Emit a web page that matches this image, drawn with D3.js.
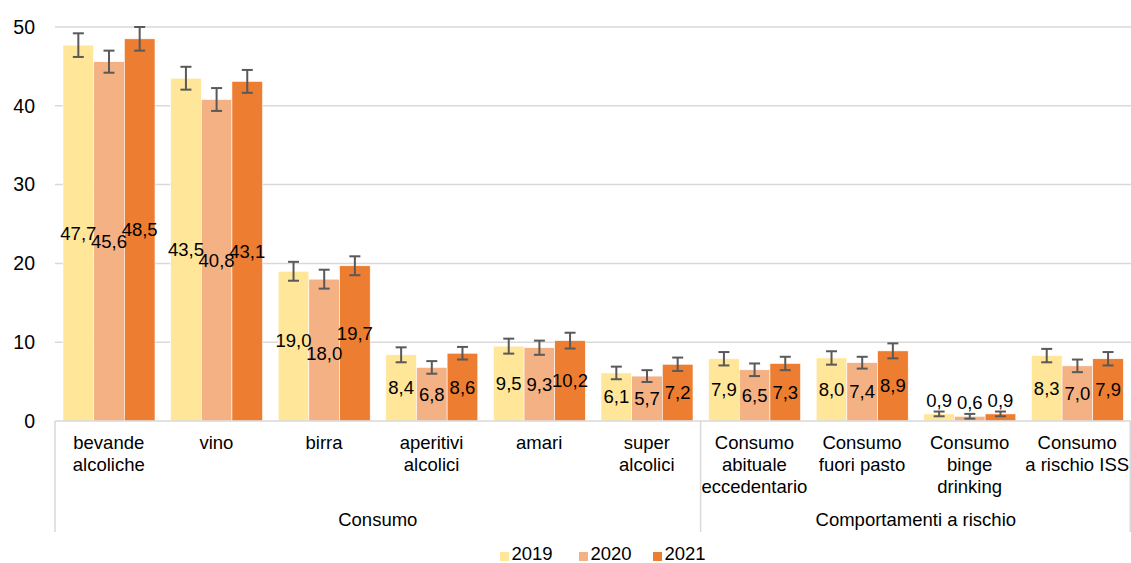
<!DOCTYPE html>
<html><head><meta charset="utf-8">
<script src="https://cdn.jsdelivr.net/npm/d3@7"></script>
<style>body{margin:0;background:#fff}svg{display:block;font-family:"Liberation Sans",Arial,sans-serif}</style>
</head><body><svg id="c" width="1131" height="563"></svg>
<script>
const categories = [
  ["bevande","alcoliche"],["vino"],["birra"],["aperitivi","alcolici"],["amari"],["super","alcolici"],
  ["Consumo","abituale","eccedentario"],["Consumo","fuori pasto"],["Consumo","binge","drinking"],["Consumo","a rischio ISS"]
];
const groups = [{name:"Consumo", from:0, to:5},{name:"Comportamenti a rischio", from:6, to:9}];
const years = ["2019","2020","2021"];
const colors = ["#FFE699","#F4B183","#ED7D31"];
const v2019 = [47.7, 43.5, 19.0, 8.4, 9.5, 6.1, 7.9, 8.0, 0.9, 8.3];
const v2020 = [45.6, 40.8, 18.0, 6.8, 9.3, 5.7, 6.5, 7.4, 0.6, 7.0];
const v2021 = [48.5, 43.1, 19.7, 8.6, 10.2, 7.2, 7.3, 8.9, 0.9, 7.9];
const e2019 = [1.5, 1.45, 1.2, 0.95, 0.95, 0.8, 0.85, 0.85, 0.3, 0.85];
const e2020 = [1.4, 1.45, 1.2, 0.8, 0.9, 0.75, 0.8, 0.75, 0.3, 0.8];
const e2021 = [1.5, 1.45, 1.2, 0.8, 1.0, 0.85, 0.85, 0.95, 0.3, 0.85];
const yTicks = [0,10,20,30,40,50];

const values = [v2019, v2020, v2021];
const errs = [e2019, e2020, e2021];
const svg = d3.select("#c");
const left = 55, right = 1131, y0 = 421, yTop = 27;
const idx = categories.map((d,i)=>i);
const x0 = d3.scaleBand().domain(idx).range([left,right]).padding(0);
const bw = x0.bandwidth();
const x1 = d3.scaleBand().domain(years).range([8, bw-7.6]).padding(0);
const y = d3.scaleLinear().domain([0,50]).range([y0,yTop]);
const fmt = v => d3.format(".1f")(v).replace(".", ",");

// gridlines
svg.append("g").selectAll("line").data(yTicks.filter(t=>t>0)).join("line")
  .attr("x1",left).attr("x2",right).attr("y1",d=>y(d)).attr("y2",d=>y(d))
  .attr("stroke","#d9d9d9").attr("stroke-width",1.5);

// y tick labels
svg.append("g").selectAll("text").data(yTicks).join("text")
  .attr("x",35).attr("y",d=>y(d)).attr("dy","0.35em").attr("text-anchor","end")
  .attr("font-size","19.5px").attr("fill","#000").text(d=>d);

// bars
const rows = [];
idx.forEach(i=>years.forEach((yr,j)=>rows.push({i,yr,j,v:values[j][i],e:errs[j][i]})));
svg.append("g").selectAll("rect").data(rows).join("rect")
  .attr("x",d=>x0(d.i)+x1(d.yr)).attr("width",x1.bandwidth())
  .attr("y",d=>y(d.v)).attr("height",d=>y0-y(d.v))
  .attr("fill",d=>colors[d.j]).attr("stroke","#fff").attr("stroke-width",0.6);

// error bars
const eg = svg.append("g").attr("stroke","#595959").attr("stroke-width",2);
rows.forEach(d=>{
  const cx = x0(d.i)+x1(d.yr)+x1.bandwidth()/2;
  const t = y(d.v+d.e), b = y(d.v-d.e);
  eg.append("line").attr("x1",cx).attr("x2",cx).attr("y1",t).attr("y2",b);
  eg.append("line").attr("x1",cx-5.5).attr("x2",cx+5.5).attr("y1",t).attr("y2",t);
  eg.append("line").attr("x1",cx-5.5).attr("x2",cx+5.5).attr("y1",b).attr("y2",b);
});

// data labels (birra labels nudged vertically as in the reference)
const nudge = (d) => d.i===2 ? [-6, 3, -10][d.j] : 0;
svg.append("g").selectAll("text").data(rows).join("text")
  .attr("x",d=>x0(d.i)+x1(d.yr)+x1.bandwidth()/2)
  .attr("y",d=> d.v<3 ? y(d.v+d.e)-11 : (y(d.v)+y0)/2 + nudge(d))
  .attr("dy","0.35em").attr("text-anchor","middle")
  .attr("font-size","18.5px").attr("fill","#000").text(d=>fmt(d.v));

// x axis line
svg.append("line").attr("x1",left).attr("x2",right).attr("y1",y0).attr("y2",y0)
  .attr("stroke","#d9d9d9").attr("stroke-width",1.5);

// category labels
const cl = svg.append("g").attr("font-size","18.5px").attr("fill","#000").attr("text-anchor","middle");
categories.forEach((lines,i)=>{
  lines.forEach((ln,k)=>{
    cl.append("text").attr("x",x0(i)+bw/2).attr("y",443+k*21.8).attr("dy","0.35em").text(ln);
  });
});

// group separators and labels
const sepX = [left, x0(6), right-0.75];
svg.append("g").selectAll("line").data(sepX).join("line")
  .attr("x1",d=>d).attr("x2",d=>d).attr("y1",y0).attr("y2",532)
  .attr("stroke","#d9d9d9").attr("stroke-width",1.5);
svg.append("g").selectAll("text").data(groups).join("text")
  .attr("x",d=>(x0(d.from)+x0(d.to)+bw)/2).attr("y",520).attr("dy","0.35em")
  .attr("text-anchor","middle").attr("font-size","18.5px").attr("fill","#000").text(d=>d.name);

// legend
const lx = [500, 579, 653];
const lg = svg.append("g");
years.forEach((yr,j)=>{
  lg.append("rect").attr("x",lx[j]).attr("y",552).attr("width",9).attr("height",9).attr("fill",colors[j]);
  lg.append("text").attr("x",lx[j]+11.5).attr("y",554).attr("dy","0.35em")
    .attr("font-size","18.5px").attr("fill","#000").text(yr);
});
</script></body></html>
